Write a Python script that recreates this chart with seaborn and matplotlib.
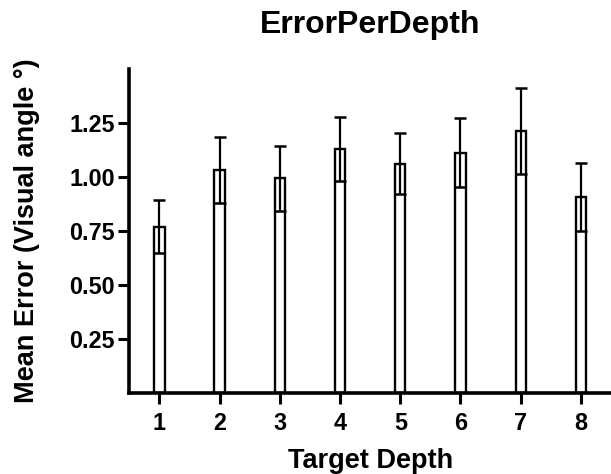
import matplotlib
matplotlib.use("Agg")
import matplotlib.pyplot as plt
import seaborn as sns
import numpy as np
import pandas as pd

depths = ["1", "2", "3", "4", "5", "6", "7", "8"]
means = [0.771, 1.034, 0.994, 1.130, 1.063, 1.114, 1.214, 0.907]
sds = [0.122, 0.154, 0.149, 0.150, 0.140, 0.158, 0.198, 0.157]
yticks = [0.25, 0.50, 0.75, 1.00, 1.25]
ytick_labels = ["0.25", "0.50", "0.75", "1.00", "1.25"]

sns.set_style("ticks")
plt.rcParams["font.family"] = ["Liberation Sans", "DejaVu Sans"]
plt.rcParams["font.weight"] = "bold"
plt.rcParams["text.color"] = "black"
plt.rcParams["axes.labelcolor"] = "black"

df = pd.DataFrame({"depth": depths, "mean": means})

fig = plt.figure(figsize=(6.11, 4.74), dpi=100)
ax = fig.add_axes([0.2116, 0.1709, 0.7884, 0.6830])

sns.barplot(data=df, x="depth", y="mean", ax=ax, width=0.17,
            color="white", edgecolor="black", linewidth=1.7,
            errorbar=None, saturation=1)
ax.errorbar(np.arange(len(depths)), means, yerr=sds, fmt="none",
            ecolor="black", elinewidth=1.6, capsize=4.5, capthick=1.8, zorder=3)

ax.set_ylim(0, 1.5)
ax.set_xlim(-0.5, len(depths) - 0.5)
ax.set_yticks(yticks)
ax.set_yticklabels(ytick_labels)

for s in ["top", "right"]:
    ax.spines[s].set_visible(False)
for s in ["left", "bottom"]:
    ax.spines[s].set_linewidth(2.6)
    ax.spines[s].set_color("black")

ax.tick_params(axis="y", length=8, width=2.2, pad=2.5, labelsize=16.8, colors="black")
ax.tick_params(axis="x", length=8, width=2.2, pad=6, labelsize=16.8, colors="black")
for lab in ax.get_xticklabels() + ax.get_yticklabels():
    lab.set_fontweight("bold")

ax.set_xlabel("Target Depth", fontsize=19.5, fontweight="bold", labelpad=9)
ax.set_ylabel("Mean Error (Visual angle °)", fontsize=19.5, fontweight="bold", labelpad=21)
ax.set_title("ErrorPerDepth", fontsize=23, fontweight="bold", pad=26)

fig.savefig("out.png", dpi=100)
